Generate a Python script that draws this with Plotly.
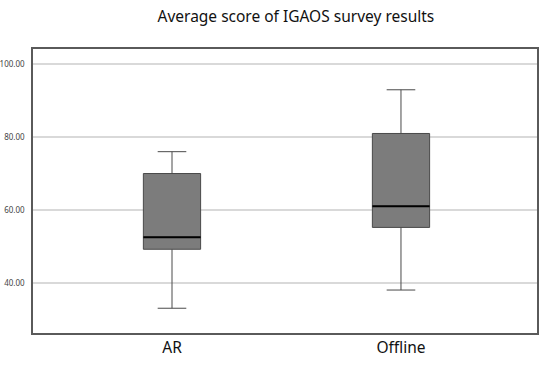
import plotly.graph_objects as go

categories = ["AR", "Offline"]
lower_whisker = [33.0, 38.0]
q1_values = [49.2, 55.2]
median_values = [52.5, 61.0]
q3_values = [70.0, 81.0]
upper_whisker = [76.0, 93.0]
y_ticks = [40, 60, 80, 100]
y_tick_labels = ["40.00", "60.00", "80.00", "100.00"]

box_width = 0.25
fig = go.Figure()
fig.add_trace(go.Box(
    x=categories,
    q1=q1_values, median=median_values, q3=q3_values,
    lowerfence=lower_whisker, upperfence=upper_whisker,
    width=box_width, whiskerwidth=0.5,
    fillcolor="#7c7c7c",
    line=dict(color="#4a4a4a", width=1),
    hoverinfo="skip", showlegend=False,
))
# black median lines, derived from data
for i, m in enumerate(median_values):
    fig.add_trace(go.Scatter(
        x=[i - box_width / 2, i + box_width / 2], y=[m, m],
        mode="lines", line=dict(color="black", width=2),
        showlegend=False, hoverinfo="skip", xaxis="x2",
    ))

xr = [-0.607, 1.594]
fig.update_layout(
    width=550, height=367,
    margin=dict(l=33, r=13, t=49, b=34),
    paper_bgcolor="white", plot_bgcolor="white",
    font=dict(family="Noto Sans, Open Sans, sans-serif", color="#222"),
    title=dict(text="Average score of IGAOS survey results", x=0.538, xanchor="center",
               y=0.955, yanchor="middle", font=dict(size=15.5, color="#111")),
    xaxis=dict(range=xr, showgrid=False, zeroline=False, showline=True, mirror=True,
               linecolor="#5a5a5a", linewidth=1.5, ticks="", automargin=False,
               tickfont=dict(size=15.5, color="#111")),
    xaxis2=dict(range=xr, overlaying="x", visible=False),
    yaxis=dict(range=[26.2, 104.2], tickvals=y_ticks, ticktext=y_tick_labels,
               showgrid=True, gridcolor="#d9d9d9", gridwidth=1.5, zeroline=False,
               showline=True, mirror=True, linecolor="#5a5a5a", linewidth=1.5,
               ticks="", ticklabelstandoff=5, automargin=False,
               tickfont=dict(size=8, color="#444")),
)
fig.write_html("out.html", config={"displayModeBar": False},
               post_script="document.body.style.margin='0';")
